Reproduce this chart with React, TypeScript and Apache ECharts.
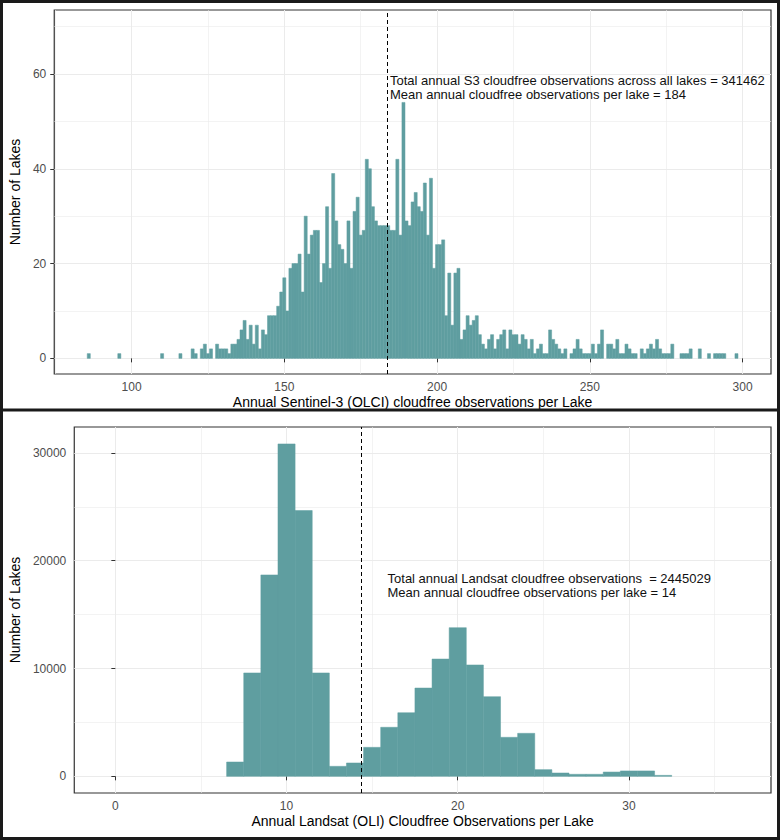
import React, { useEffect, useRef } from 'react';
import * as echarts from 'echarts';

// ---------- Top panel: Sentinel-3 (OLCI) ----------
const s3FirstBin = 86; // bin centre of the first count below (binwidth 1)
const s3Counts = [
  1, 0, 0, 0, 0, 0, 0, 0, 0, 0, // 86-95
  1, 0, 0, 0, 0, 0, 0, 0, 0, 0, // 96-105
  0, 0, 0, 0, 1, 0, 0, 0, 0, 0, // 106-115
  1, 0, 0, 0, 2, 1, 0, 2, 3, 1, // 116-125
  2, 0, 3, 2, 2, 2, 1, 3, 3, 4, // 126-135
  6, 8, 4, 7, 3, 7, 2, 6, 5, 9, // 136-145
  9, 9, 11, 14, 17, 10, 19, 20, 20, 22, // 146-155
  14, 30, 22, 26, 27, 27, 16, 20, 32, 19, // 156-165
  39, 29, 24, 23, 20, 29, 19, 31, 34, 26, // 166-175
  27, 42, 40, 32, 29, 28, 28, 28, 28, 27, // 176-185
  27, 42, 26, 54, 29, 28, 33, 35, 32, 31, // 186-195
  37, 26, 38, 19, 24, 24, 25, 9, 18, 7, // 196-205
  18, 19, 4, 6, 9, 7, 8, 9, 5, 3, // 206-215
  2, 4, 5, 2, 4, 5, 6, 2, 6, 5, // 216-225
  5, 3, 5, 4, 2, 4, 1, 2, 3, 1, // 226-235
  1, 6, 4, 3, 2, 1, 2, 0, 1, 2, // 236-245
  4, 2, 1, 1, 1, 3, 1, 3, 6, 0, // 246-255
  3, 3, 2, 4, 1, 1, 3, 2, 1, 1, // 256-265
  0, 2, 1, 2, 3, 2, 4, 2, 1, 1, // 266-275
  1, 3, 0, 0, 1, 1, 1, 2, 0, 0, // 276-285
  2, 0, 0, 1, 0, 1, 1, 1, 1, 0, // 286-295
  0, 0, 1, // 296-298
];
const s3Mean = 183.8;
const s3XTicks = [100, 150, 200, 250, 300];
const s3YTicks = [0, 20, 40, 60];
const s3XRange = [74.7, 309.3];
const s3YRange = [-3.3, 73.5];
const s3Note = [
  'Total annual S3 cloudfree observations across all lakes = 341462',
  'Mean annual cloudfree observations per lake = 184',
];
const s3NoteAt = [184.6, 57.2];
const s3XTitle = 'Annual Sentinel-3 (OLCI) cloudfree observations per Lake';

// ---------- Bottom panel: Landsat (OLI) ----------
const lsFirstBin = 7;
const lsCounts = [
  1330, 9590, 18680, 30830, 24650, 9590, 930, 1240, 2690, 4550,
  5900, 8190, 10880, 13790, 10330, 7390, 3620, 3990, 620, 310,
  190, 190, 400, 500, 500, 90,
];
const lsMean = 14.35;
const lsXTicks = [0, 10, 20, 30];
const lsYTicks = [0, 10000, 20000, 30000];
const lsXRange = [-2.4, 38.3];
const lsYRange = [-1545, 32400];
const lsNote = [
  'Total annual Landsat cloudfree observations  = 2445029',
  'Mean annual cloudfree observations per lake = 14',
];
const lsNoteAt = [15.9, 17700];
const lsXTitle = 'Annual Landsat (OLI) Cloudfree Observations per Lake';

const yTitle = 'Number of Lakes';

const BAR = '#5F9EA0';
const FONT = "'Liberation Sans', Arial, Helvetica, sans-serif";
const GRID_C = '#EBEBEB';
const DARK = '#333333';

function toBins(first: number, counts: number[]) {
  return counts
    .map((c, i) => [first + i, c])
    .filter((d) => d[1] > 0);
}

const renderBin = (_params: any, api: any) => {
  const x = api.value(0);
  const y = api.value(1);
  const a = api.coord([x - 0.5, y]);
  const b = api.coord([x + 0.5, 0]);
  return {
    type: 'rect',
    shape: { x: a[0], y: a[1], width: b[0] - a[0], height: b[1] - a[1] },
    style: { fill: BAR, stroke: BAR, lineWidth: 0.5 },
  };
};

const plainNum = (v: number) => String(v);

function xAxisOpt(gridIndex: number, range: number[], ticks: number[], step: number, name: string) {
  return {
    type: 'value',
    gridIndex,
    min: range[0],
    max: range[1],
    minInterval: step,
    maxInterval: step,
    name,
    nameLocation: 'middle',
    nameGap: 21,
    nameTextStyle: { color: '#000', fontSize: 14, fontFamily: FONT },
    axisLine: { show: false },
    axisTick: { show: true, length: 4, lineStyle: { color: DARK, width: 1 }, customValues: ticks },
    axisLabel: { color: '#4D4D4D', fontSize: 12, fontFamily: FONT, margin: 7, customValues: ticks, formatter: plainNum },
    splitLine: { show: true, lineStyle: { color: GRID_C, width: 1 } },
    minorTick: { show: false, splitNumber: 2 },
    minorSplitLine: { show: true, lineStyle: { color: GRID_C, width: 0.6 } },
  };
}

function yAxisOpt(gridIndex: number, range: number[], ticks: number[], step: number, gap: number) {
  return {
    type: 'value',
    gridIndex,
    min: range[0],
    max: range[1],
    minInterval: step,
    maxInterval: step,
    name: yTitle,
    nameLocation: 'middle',
    nameGap: gap,
    nameTextStyle: { color: '#000', fontSize: 14, fontFamily: FONT },
    axisLine: { show: false },
    axisTick: { show: true, length: 4, lineStyle: { color: DARK, width: 1 }, customValues: ticks },
    axisLabel: { color: '#4D4D4D', fontSize: 12, fontFamily: FONT, margin: 8, customValues: ticks, formatter: plainNum },
    splitLine: { show: true, lineStyle: { color: GRID_C, width: 1 } },
    minorTick: { show: false, splitNumber: 2 },
    minorSplitLine: { show: true, lineStyle: { color: GRID_C, width: 0.6 } },
  };
}

function meanLine(v: number) {
  return {
    silent: true,
    symbol: ['none', 'none'],
    label: { show: false },
    lineStyle: { color: '#000', type: [4, 3], width: 1 },
    data: [{ xAxis: v }],
  };
}

export default function App() {
  const ref = useRef<HTMLDivElement>(null);

  useEffect(() => {
    if (!ref.current) return;
    const chart = echarts.init(ref.current, undefined, { renderer: 'svg' });
    const option: any = {
      animation: false,
      backgroundColor: '#ffffff',
      textStyle: { fontFamily: FONT },
      grid: [
        { left: 48, top: 10, width: 723, height: 364, show: true, borderColor: DARK, borderWidth: 1.2, backgroundColor: '#fff' },
        { left: 69, top: 427, width: 702, height: 366, show: true, borderColor: DARK, borderWidth: 1.2, backgroundColor: '#fff' },
      ],
      xAxis: [
        xAxisOpt(0, s3XRange, s3XTicks, 50, s3XTitle),
        xAxisOpt(1, lsXRange, lsXTicks, 10, lsXTitle),
      ],
      yAxis: [
        yAxisOpt(0, s3YRange, s3YTicks, 20, 23),
        yAxisOpt(1, lsYRange, lsYTicks, 10000, 44),
      ],
      series: [
        {
          type: 'custom',
          name: 'S3',
          xAxisIndex: 0,
          yAxisIndex: 0,
          renderItem: renderBin,
          encode: { x: 0, y: 1 },
          clip: true,
          data: toBins(s3FirstBin, s3Counts),
          markLine: meanLine(s3Mean),
        },
        {
          type: 'custom',
          name: 'Landsat',
          xAxisIndex: 1,
          yAxisIndex: 1,
          renderItem: renderBin,
          encode: { x: 0, y: 1 },
          clip: true,
          data: toBins(lsFirstBin, lsCounts),
          markLine: meanLine(lsMean),
        },
      ],
    };
    chart.setOption(option);

    const p1 = chart.convertToPixel({ gridIndex: 0 }, s3NoteAt) as number[];
    const p2 = chart.convertToPixel({ gridIndex: 1 }, lsNoteAt) as number[];
    const noteStyle = (text: string) => ({
      text,
      fill: '#111',
      fontSize: 13,
      fontFamily: FONT,
      lineHeight: 14,
      align: 'left',
      verticalAlign: 'middle',
    });
    chart.setOption({
      graphic: [
        { type: 'text', id: 'n1', x: p1[0], y: p1[1], z: 50, style: noteStyle(s3Note.join('\n')) },
        { type: 'text', id: 'n2', x: p2[0], y: p2[1], z: 50, style: noteStyle(lsNote.join('\n')) },
        {
          type: 'rect', id: 'frame', z: 60,
          shape: { x: 1.5, y: 1.5, width: 777, height: 837 },
          style: { fill: 'none', stroke: '#1a1a1a', lineWidth: 3 },
        },
        {
          type: 'line', id: 'sep', z: 60,
          shape: { x1: 0, y1: 410, x2: 780, y2: 410 },
          style: { stroke: '#1a1a1a', lineWidth: 3 },
        },
      ],
    });

    return () => chart.dispose();
  }, []);

  return (
    <div
      ref={ref}
      style={{ position: 'fixed', left: 0, top: 0, width: 780, height: 840, background: '#fff' }}
    />
  );
}
